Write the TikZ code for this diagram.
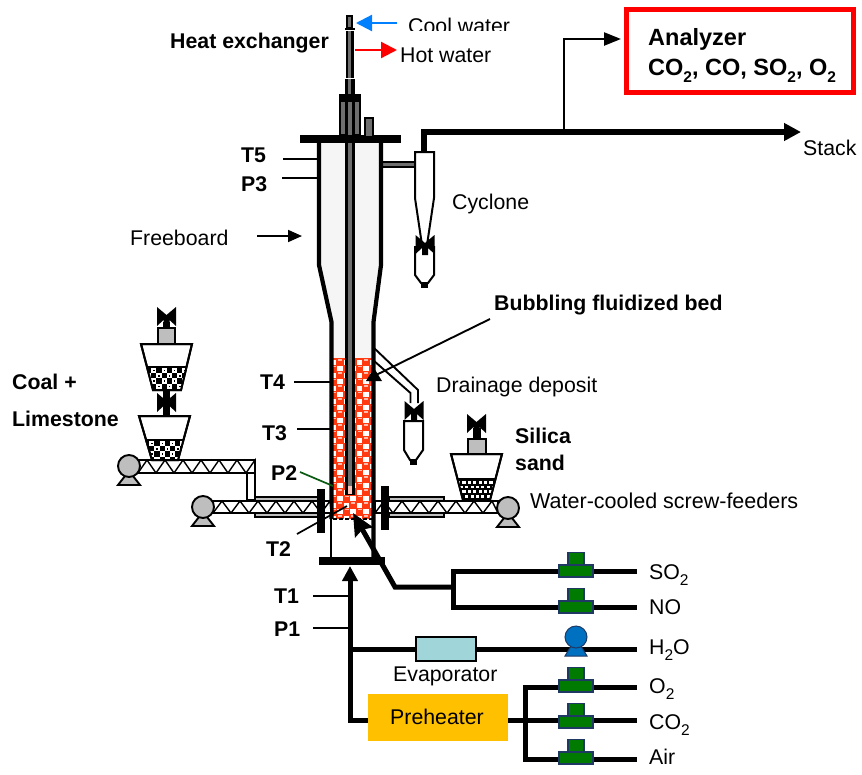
\documentclass[tikz,border=0pt]{standalone}
\usepackage{fontspec}
\setmainfont{Liberation Sans}
\usetikzlibrary{arrows.meta}
\definecolor{gasgreen}{HTML}{007A00}
\definecolor{gasblue}{HTML}{1F3864}
\definecolor{pumpblue}{HTML}{0070C0}
\definecolor{evap}{HTML}{A0D5DA}
\definecolor{preh}{HTML}{FFC000}
\definecolor{bedred}{HTML}{FF3A10}
\definecolor{grayfill}{HTML}{BEBEBE}
\definecolor{darkgr}{HTML}{6E6E6E}
\definecolor{pgreen}{HTML}{0B5A12}
\newcommand{\subtwo}{\raisebox{-0.3em}{\fontsize{15.5}{15.5}\selectfont 2}}
\newcommand{\drawscrew}[4]{% x1 x2 ytop ybot
  \draw[line width=1.6pt,fill=white] (#1,#3) rectangle (#2,#4);
  \pgfmathsetmacro{\scrA}{#1+18}
  \foreach \sx in {#1,\scrA,...,#2}{
    \pgfmathsetmacro{\sxa}{min(\sx+9,#2)}
    \pgfmathsetmacro{\sxb}{min(\sx+18,#2)}
    \draw[line width=1.4pt] (\sx,#4) -- (\sxa,#3) -- (\sxb,#4);
  }
}
\newcommand{\fillcoal}[3]{% clip path, grid origin x,y : white ground with black squares and blobs
  \begin{scope}
    \clip #1;
    \fill[white] (0,0) rectangle (862,774);
    \foreach \cx in {0,...,7}{\foreach \cy in {0,...,4}{
      \pgfmathsetmacro{\bx}{#2+\cx*5.2}
      \pgfmathsetmacro{\by}{#3+\cy*5.2}
      \pgfmathparse{int(mod(\cx+\cy,2))}
      \ifnum\pgfmathresult=0
        \fill[black] (\bx,\by) rectangle ++(5.2,5.2);
      \else
        \fill[black] (\bx+2,\by+2) rectangle ++(1.4,1.4);
      \fi
    }}
  \end{scope}
}
\newcommand{\fillsand}[3]{% clip path, grid origin x,y : black ground with small white squares
  \begin{scope}
    \clip #1;
    \fill[black] (0,0) rectangle (862,774);
    \foreach \cx in {0,...,7}{\foreach \cy in {0,...,4}{
      \pgfmathsetmacro{\bx}{#2+\cx*5.4+mod(\cy,2)*2.7}
      \pgfmathsetmacro{\by}{#3+\cy*4.6}
      \fill[white] (\bx,\by) rectangle ++(3.1,2.8);
    }}
  \end{scope}
}
\tikzset{
  x=1pt,y=-1pt,
  lab/.style={font=\fontsize{21.3}{25}\selectfont,anchor=base west,inner sep=0pt,text=black},
  blab/.style={lab,font=\fontsize{21.3}{25}\selectfont\bfseries},
  anlab/.style={lab,font=\fontsize{23.5}{28}\selectfont\bfseries},
  tap/.style={line width=1.7pt},
  gasline/.style={line width=5pt},
  bowtie/.pic={\fill[black] (-9.5,-10) -- (0,-2) -- (9.5,-10) -- (9.5,9) -- (3,3) -- (3,10) -- (-3,10) -- (-3,3) -- (-9.5,9) -- cycle;},
  gasvalve/.pic={
    \draw[gasblue,line width=1.4pt,fill=gasgreen] (-17,-6) rectangle (17,6);
    \draw[gasblue,line width=1.4pt,fill=gasgreen] (-8,-18.5) rectangle (8,-6);},
  motor/.pic={
    \draw[line width=1.9pt,fill=grayfill] (-4,10) -- (4,10) -- (11,19) -- (-11,19) -- cycle;
    \draw[line width=1.9pt,fill=grayfill] (0,0) circle (11);},
}
\begin{document}
\begin{tikzpicture}
\useasboundingbox (0,0) rectangle (862,774);
% ------- analyzer line and stack
\node[draw={rgb,255:red,255;green,0;blue,0},line width=5pt,minimum width=227pt,minimum height=83pt,inner sep=0pt] (analyzer) at (740,51) {};
\node[anlab] (analyzerA) at (648,45) {Analyzer};
\node[anlab] (analyzerB) at (648,75) {CO\subtwo, CO, SO\subtwo, O\subtwo};
\coordinate (cycout) at (424,153);
\coordinate (cyccorner) at (424,132);
\coordinate (stackend) at (801,132);
\coordinate (tee) at (564,132);
\coordinate (teeup) at (564,39);
\coordinate (anin) at (621,39);
\draw[line width=2.4pt,-{Triangle[length=17pt,width=13pt]}] (tee) -- (teeup) -- (anin);
\draw[line width=5.5pt,-{Triangle[length=17pt,width=17pt]}] (cycout) -- (cyccorner) -- (stackend);
% ------- reactor body
\fill[white!96!black] (319,143) -- (381,143) -- (381,265) -- (373,322) -- (373,358) -- (332,358) -- (332,322) -- (319,265) -- cycle;
% connection to cyclone
\fill[darkgr] (383,162) rectangle (415,167);
\draw[black,line width=1.2pt] (383,162) -- (415,162) (383,167) -- (415,167);
% bed
\begin{scope}
  \clip (333,358) rectangle (372,519);
  \fill[bedred] (333,358) rectangle (372,519);
  \foreach \r in {0,...,25}{
    \foreach \c in {0,...,3}{
      \pgfmathsetmacro{\bx}{327+\c*13+mod(\r,2)*6.5}
      \pgfmathsetmacro{\by}{362+\r*6.5}
      \fill[white] (\bx+3.9,\by-2.5) rectangle ++(5.2,5);
    }
  }
  \foreach \r in {0,...,25}{
    \foreach \c in {0,...,3}{
      \pgfmathsetmacro{\bx}{327+\c*13+mod(\r,2)*6.5}
      \pgfmathsetmacro{\by}{362+\r*6.5}
      \fill[white!65!bedred] (\bx-2,\by-2.6) rectangle ++(4,1.3);
    }
  }
\end{scope}
% walls
\draw[line width=4.2pt,line join=miter] (319,143) -- (319,265) -- (331.5,322) -- (331.5,519);
\draw[line width=4.2pt,line join=miter] (381,143) -- (381,265) -- (373.5,322) -- (373.5,560);
\draw[line width=2.8pt] (331,519) -- (331,560);
\draw[line width=2.8pt,dash pattern=on 4pt off 2pt] (333,519) -- (372,519);
% top flange
\fill[black] (300,135) rectangle (401,143);
% heat exchanger parts
\draw[line width=1.2pt,fill=darkgr] (340,97) rectangle (360,135);
\fill[black] (339,94) rectangle (361,102);
\draw[line width=1.2pt,fill=darkgr] (365,118) rectangle (373,137);
% inner tube
\fill[black] (345,28) rectangle (354.5,135);
\fill[black] (345,143) rectangle (354.5,495);
\fill[darkgr] (348,102) rectangle (351.5,135);
\fill[darkgr] (348,143) rectangle (351.5,487);
\fill[darkgr] (348,30) rectangle (351,94);
\draw[white,line width=0.9pt] (345,30) rectangle (354.5,78);
\draw[line width=1.2pt,fill=darkgr] (347,16) rectangle (352,28);
\fill[white!70!bedred] (347.5,486) rectangle (352,494);
% bottom flange
\fill[black] (319,557) rectangle (385,565);
% ------- cyclone
\draw[line width=2pt,fill=white] (415,152) -- (434,152) -- (434,198) -- (427,245) -- (422,245) -- (415,198) -- cycle;
\draw[line width=2pt,fill=white] (415,247) -- (434,247) -- (434,275) -- (428,283) -- (421,283) -- (415,275) -- cycle;
\fill[black] (421,283) rectangle (428,288);
\pic at (425,245) {bowtie};
% ------- drainage
\coordinate (drA) at (373,347);\coordinate (drB) at (418,390);\coordinate (drC) at (418,403);
\coordinate (drD) at (373,360);\coordinate (drE) at (410.5,393);\coordinate (drF) at (410.5,403);
\draw[line width=1.9pt] (drA) -- (drB) -- (drC);
\draw[line width=1.9pt] (drD) -- (drE) -- (drF);
\draw[line width=2pt,fill=white] (404,421) -- (423,421) -- (423,450) -- (416,460) -- (410,460) -- (404,450) -- cycle;
\pic at (414,411) {bowtie};
\fill[black] (410,460) rectangle (417,465);
% ------- left feeders
\drawscrew{138}{255}{460}{473}
\draw[line width=1.6pt,fill=white] (247,473) rectangle (255,500);
\draw[line width=1.5pt,fill=grayfill] (255,497) rectangle (318,517);
\drawscrew{213}{331}{501}{513}
\pic at (129,466) {motor};
\pic at (203,507) {motor};
% upper hopper
\fill[black] (163,322) rectangle (170,330);
\draw[line width=1.6pt,fill=grayfill] (158,328) rectangle (175,344);
\pic at (166.5,317) {bowtie};
\draw[line width=2pt,fill=white] (141,344) -- (192,344) -- (181,390) -- (153,390) -- cycle;
\fillcoal{(146.5,367) -- (186.5,367) -- (181,390) -- (153,390) -- cycle}{146}{368}
\draw[line width=2pt] (146.5,367) -- (186.5,367);
\draw[line width=2pt] (141,344) -- (192,344) -- (181,390) -- (153,390) -- cycle;
% valve between
\fill[black] (163,391) rectangle (170,416);
\begin{scope}[shift={(166.5,403)},xscale=1.2,yscale=1.05]
\pic {bowtie};
\end{scope}
% lower hopper
\draw[line width=2pt,fill=white] (139,416) -- (190,416) -- (178,460) -- (152,460) -- cycle;
\fillcoal{(145,440) -- (184,440) -- (178,460) -- (152,460) -- cycle}{144}{441}
\draw[line width=2pt] (145,440) -- (184,440);
\draw[line width=2pt] (139,416) -- (190,416) -- (178,460) -- (152,460) -- cycle;
% ------- right feeder
\draw[line width=1.5pt,fill=grayfill] (389,497) rectangle (444,517);
\drawscrew{375}{498}{501}{513}
\pic at (508,508) {motor};
\fill[black] (473,428) rectangle (481,440);
\draw[line width=1.6pt,fill=grayfill] (468,439) rectangle (486,454);
\pic at (476.5,424) {bowtie};
\draw[line width=2pt,fill=white] (451,454) -- (502,454) -- (490,500) -- (463,500) -- cycle;
\fillsand{(457,479) -- (496,479) -- (490,500) -- (463,500) -- cycle}{457}{481}
\draw[line width=2pt] (457,479) -- (496,479);
\draw[line width=2pt] (451,454) -- (502,454) -- (490,500) -- (463,500) -- cycle;
% flanges
\fill[black] (317,489) rectangle (325,533);
\fill[black] (381,486) rectangle (389,530);
% ------- bubbling bed pointer
\node[blab] (bfb) at (494,310) {Bubbling fluidized bed};
\coordinate (bfbstart) at (490,319);
\coordinate (bfbtip) at (374,376);
\draw[line width=1.9pt] (bfbstart) -- (bfbtip);
\fill[black] (374,368) -- (382,381) -- (366,381) -- cycle;
% ------- gas lines
\coordinate (mainB) at (350,720);
\coordinate (mainT) at (350,566);
\coordinate (jSO) at (453,587);
\coordinate (jelbow) at (395,587);
\coordinate (bedin) at (353,513);
\node[fill=preh,minimum width=140pt,minimum height=47pt,inner sep=0pt] (preheater) at (438,717.5) {};
\node[lab] (prelab) at (390,724) {Preheater};
\coordinate (so2end) at (637,571);\coordinate (noend) at (637,607);
\coordinate (so2j) at (453,571);\coordinate (noj) at (453,607);
\draw[gasline,line join=miter,-{Stealth[length=22pt,width=20pt,inset=3pt]}] (jSO) -- (jelbow) -- (bedin);
\draw[gasline,line join=miter] (so2end) -- (so2j) -- (noj) -- (noend);
\draw[gasline,line join=miter,-{Triangle[length=15pt,width=15pt]}] (preheater.west |- mainB) -- (mainB) -- (mainT);
\coordinate (h2oend) at (637,649);
\coordinate (h2ostart) at (350,649);
\node[draw,line width=2.4pt,fill=evap,minimum width=60pt,minimum height=24pt,inner sep=0pt] (evaporator) at (446,649) {};
\draw[gasline] (h2ostart) -- (evaporator.west);
\draw[gasline] (evaporator.east) -- (h2oend);
\coordinate (o2end) at (637,687);\coordinate (co2end) at (637,720);\coordinate (airend) at (637,759);
\coordinate (o2j) at (525,687);\coordinate (co2j) at (525,720);\coordinate (airj) at (525,759);
\draw[gasline,line join=miter] (o2end) -- (o2j) -- (airj) -- (airend);
\draw[gasline] (preheater.east |- co2j) -- (co2end);
\pic at (576,571) {gasvalve};
\pic at (576,607) {gasvalve};
\pic at (576,686) {gasvalve};
\pic at (576,722) {gasvalve};
\pic at (576,758) {gasvalve};
% pump
\draw[gasblue,line width=1pt,fill=pumpblue] (571,646) -- (581,646) -- (587,656) -- (565,656) -- cycle;
\draw[gasblue,line width=1pt,fill=pumpblue] (576,637) circle (11);
% ------- arrows at top
\coordinate (coolS) at (397,23);\coordinate (coolE) at (356,23);
\coordinate (hotS) at (355,50);\coordinate (hotE) at (397,50);
\draw[color={rgb,255:red,0;green,128;blue,255},line width=2.2pt,-{Triangle[length=16pt,width=16pt]}] (coolS) -- (coolE);
\draw[red,line width=2.2pt,-{Triangle[length=16pt,width=16pt]}] (hotS) -- (hotE);
\node[lab] (coolw) at (408,33) {Cool water};
\fill[white] (405,31) rectangle (515,38);
\node[lab] (hotw) at (400,62) {Hot water};
% ------- labels
\node[blab] (hex) at (170,48) {Heat exchanger};
\node[lab] (stack) at (803,155) {Stack};
\node[lab] (cyclone) at (452,209) {Cyclone};
\node[lab] (freeb) at (130,245) {Freeboard};
\node[lab] (drain) at (436,392) {Drainage deposit};
\node[lab,font=\fontsize{21.5}{25}\selectfont] (screw) at (530,508) {Water-cooled screw-feeders};
\node[lab] (evlab) at (393,681) {Evaporator};
\node[blab] (coal) at (12,389) {Coal +};
\node[blab] (lime) at (12,426) {Limestone};
\node[blab] (silica) at (515,443) {Silica};
\node[blab] (sand) at (515,470) {sand};
\node[blab] (T5) at (241,162) {T5};
\node[blab] (P3) at (241,191) {P3};
\node[blab] (T4) at (260,389) {T4};
\node[blab] (T3) at (262,440) {T3};
\node[blab] (P2) at (271,480) {P2};
\node[blab] (T2) at (266,556) {T2};
\node[blab] (T1) at (274,603) {T1};
\node[blab] (P1) at (274,636) {P1};
\node[lab] (so2) at (649,579) {SO\subtwo};
\node[lab] (no) at (649,614) {NO};
\node[lab] (h2o) at (649,654) {H\subtwo O};
\node[lab] (o2) at (649,693) {O\subtwo};
\node[lab] (co2) at (649,729) {CO\subtwo};
\node[lab] (air) at (649,764) {Air};
% ------- taps
\coordinate (t5a) at (283,159);\coordinate (t5b) at (317,159);
\coordinate (p3a) at (282,178);\coordinate (p3b) at (317,178);
\coordinate (t4a) at (294,382);\coordinate (t4b) at (330,382);
\coordinate (t3a) at (297,429);\coordinate (t3b) at (330,429);
\coordinate (t1a) at (313,596);\coordinate (t1b) at (350,596);
\coordinate (p1a) at (313,628);\coordinate (p1b) at (350,628);
\coordinate (t2a) at (297,534);\coordinate (t2b) at (347,506);
\coordinate (p2a) at (300,472);\coordinate (p2b) at (333,486);
\coordinate (fba) at (257,236);\coordinate (fbb) at (302,236);
\foreach \a/\b in {t5a/t5b,p3a/p3b,t4a/t4b,t3a/t3b,t1a/t1b,p1a/p1b,t2a/t2b}{\draw[tap] (\a) -- (\b);}
\draw[pgreen,tap] (p2a) -- (p2b);
\draw[tap,-{Triangle[length=14pt,width=12pt]}] (fba) -- (fbb);
\end{tikzpicture}
\end{document}
